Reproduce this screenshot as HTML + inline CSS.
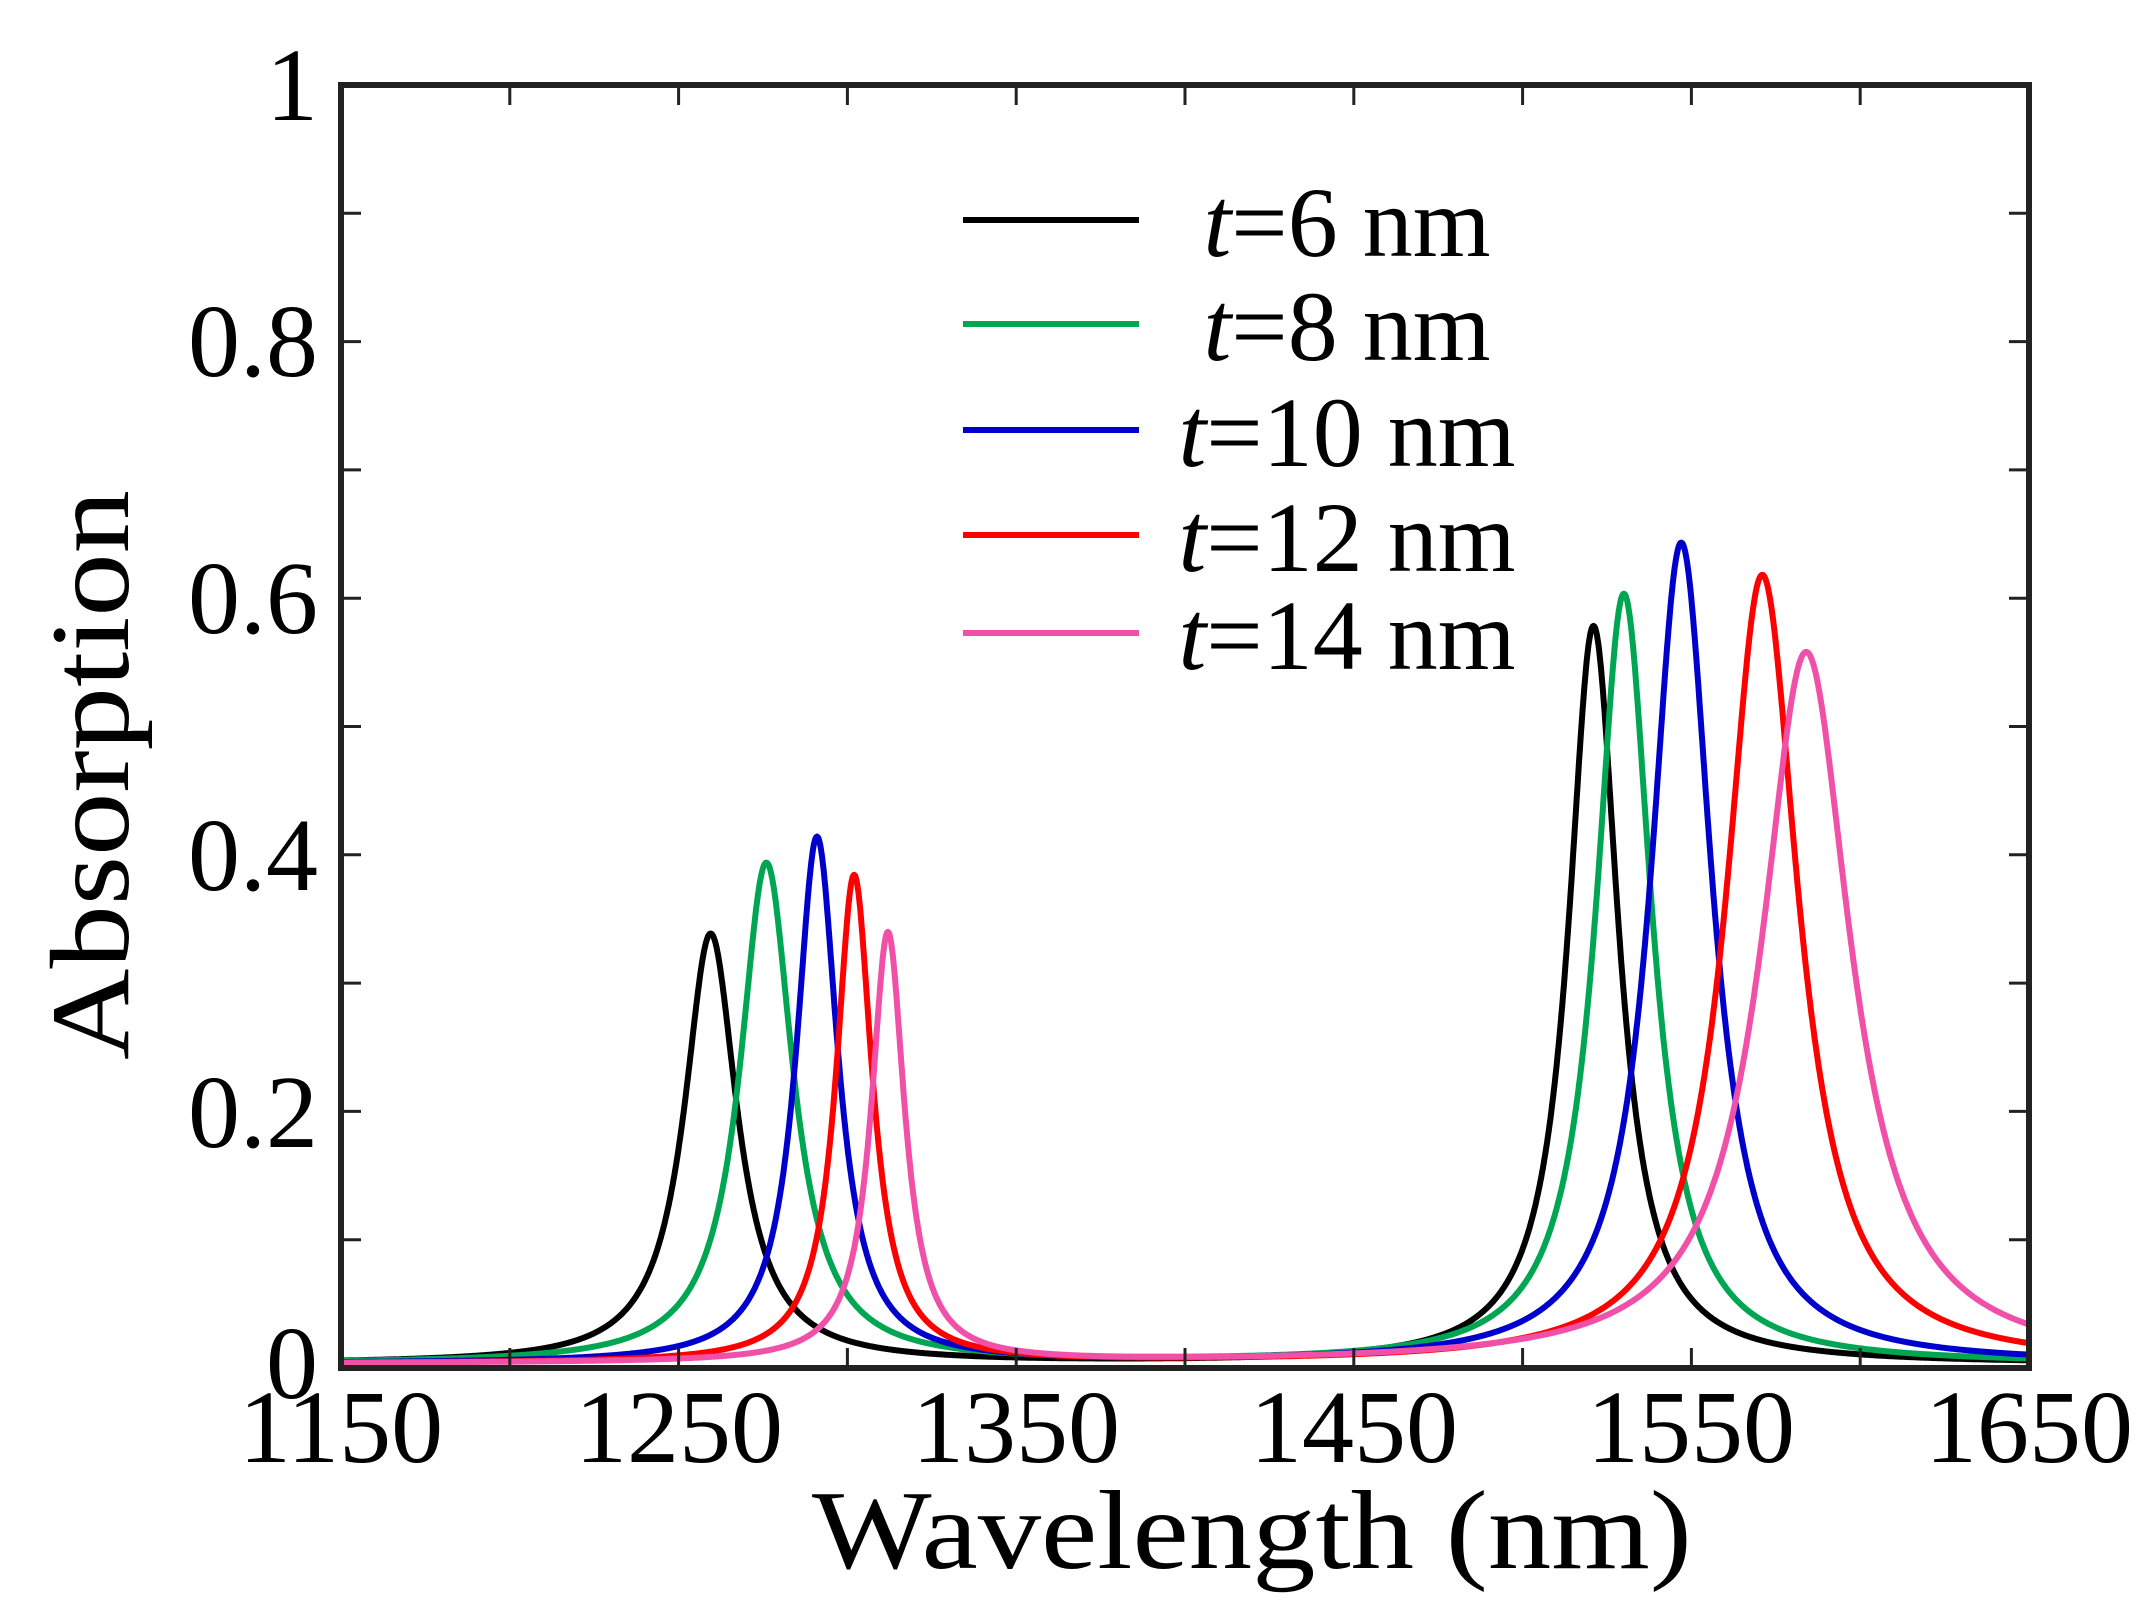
<!DOCTYPE html>
<html><head><meta charset="utf-8"><style>
html,body{margin:0;padding:0;background:#fff;}
svg{display:block;}
text{font-family:"Liberation Serif",serif;fill:#000;}
</style></head><body>
<svg id="s" width="2156" height="1609" viewBox="0 0 2156 1609" xmlns="http://www.w3.org/2000/svg">
<g id="curves" fill="none" stroke-width="6" stroke-linejoin="round"></g>
<g id="ticks" stroke="#222" stroke-width="3"></g>
<rect x="341" y="85" width="1688" height="1283" fill="none" stroke="#222" stroke-width="6"/>
<g font-size="104" text-anchor="end">
<text x="318" y="120">1</text>
<text x="318" y="376">0.8</text>
<text x="318" y="633">0.6</text>
<text x="318" y="890">0.4</text>
<text x="318" y="1147">0.2</text>
<text x="318" y="1398">0</text>
</g>
<g font-size="104" text-anchor="middle">
<text x="341" y="1462">1150</text>
<text x="679" y="1462">1250</text>
<text x="1016" y="1462">1350</text>
<text x="1354" y="1462">1450</text>
<text x="1691" y="1462">1550</text>
<text x="2029" y="1462">1650</text>
</g>
<text x="812" y="1568" font-size="112" textLength="880" lengthAdjust="spacingAndGlyphs">Wavelength (nm)</text>
<text transform="translate(128,1060) rotate(-90)" font-size="112" textLength="570" lengthAdjust="spacingAndGlyphs">Absorption</text>
<g stroke-width="6">
<line x1="963" y1="220" x2="1139" y2="220" stroke="#000"/>
<line x1="963" y1="324" x2="1139" y2="324" stroke="#00a651"/>
<line x1="963" y1="430" x2="1139" y2="430" stroke="#0000cc"/>
<line x1="963" y1="535" x2="1139" y2="535" stroke="#ff0000"/>
<line x1="963" y1="633" x2="1139" y2="633" stroke="#f050a8"/>
</g>
<g font-size="100" text-anchor="middle">
<text x="1347" y="256"><tspan font-style="italic">t</tspan>=6 nm</text>
<text x="1347" y="360"><tspan font-style="italic">t</tspan>=8 nm</text>
<text x="1347" y="466"><tspan font-style="italic">t</tspan>=10 nm</text>
<text x="1347" y="571"><tspan font-style="italic">t</tspan>=12 nm</text>
<text x="1347" y="669"><tspan font-style="italic">t</tspan>=14 nm</text>
</g>
</svg>
<script>
(function(){
var X0=341,X1=2029,Y0=1368,Y1=85;
function px(w){return X0+(w-1150)*(X1-X0)/500;}
function py(a){return Y0-a*(Y0-Y1);}
var ns="http://www.w3.org/2000/svg";
var tk=document.getElementById("ticks");
function ln(x1,y1,x2,y2){var l=document.createElementNS(ns,"line");l.setAttribute("x1",x1);l.setAttribute("y1",y1);l.setAttribute("x2",x2);l.setAttribute("y2",y2);tk.appendChild(l);}
for(var w=1200;w<1650;w+=50){var x=px(w);ln(x,Y0,x,Y0-20);ln(x,Y1,x,Y1+20);}
for(var a=0.1;a<0.95;a+=0.1){var y=py(a);ln(X0,y,X0+20,y);ln(X1,y,X1-20,y);}
var S=[
["#000",[1259.5,0.335,9.5],[1521,0.575,9]],
["#00a651",[1276,0.39,9.5],[1530,0.60,10]],
["#0000cc",[1291,0.41,7.5],[1547,0.64,11]],
["#ff0000",[1302,0.38,6.5],[1571,0.615,13]],
["#f050a8",[1312,0.335,6],[1584,0.555,16]]
];
var g=document.getElementById("curves");
S.forEach(function(s){
 var d="";
 for(var w=1150;w<=1650;w+=0.25){
  var v=0.003;
  for(var i=1;i<3;i++){var p=s[i];var u=(w-p[0])/p[2];v+=p[1]/(1+u*u);}
  d+=(w==1150?"M":"L")+px(w).toFixed(1)+","+py(v).toFixed(1);
 }
 var e=document.createElementNS(ns,"path");e.setAttribute("d",d);e.setAttribute("stroke",s[0]);g.appendChild(e);
});
})();
</script>
</body></html>
